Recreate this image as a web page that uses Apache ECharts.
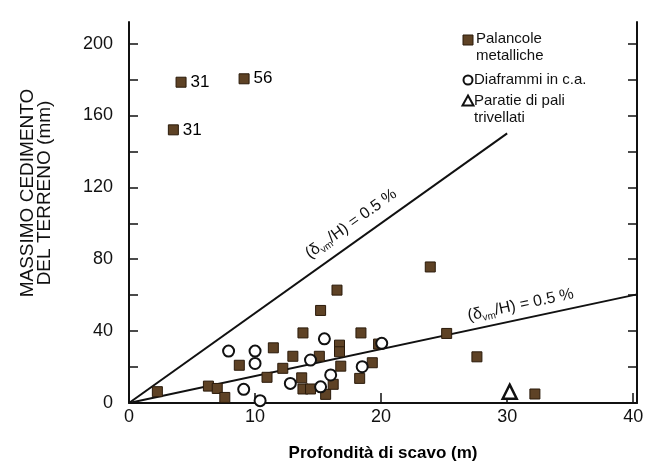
<!DOCTYPE html>
<html>
<head>
<meta charset="utf-8">
<script src="https://cdn.jsdelivr.net/npm/echarts@6/dist/echarts.min.js"></script>
<style>html,body{margin:0;padding:0;background:#fff}#c{width:647px;height:468px}</style>
</head>
<body>
<div id="c"></div>
<script>
// ---- data ----
const palX = [2.25, 6.3, 7.0, 7.6, 8.75, 11.45, 10.95, 12.2, 13.0, 13.8, 13.7, 13.8, 14.4, 15.2, 15.1, 15.6, 16.2, 16.5, 16.7, 16.7, 16.8, 18.4, 18.3, 19.3, 19.8, 23.9, 25.2, 27.6, 32.2];
const palY = [6.3, 9.4, 8.1, 3.1, 21, 30.7, 14.3, 19.3, 26, 39, 14, 7.8, 7.8, 51.5, 26, 4.8, 10.4, 62.8, 32.2, 28.5, 20.5, 39, 13.7, 22.4, 32.8, 75.7, 38.7, 25.7, 5];
const palLabX = [4.13, 3.52, 9.13];
const palLabY = [178.5, 152, 180.4];
const palLabText = ['31', '31', '56'];
const diaX = [7.9, 10.0, 10.0, 9.1, 10.4, 12.8, 14.4, 15.5, 15.2, 16.0, 18.5, 20.05];
const diaY = [28.9, 28.9, 22, 7.6, 1.3, 10.9, 23.9, 35.7, 9, 15.6, 20.2, 33.2];
const parX = [30.2];
const parY = [6.3];
const lineUpX = [0, 30];
const lineUpY = [0, 150];
const lineLoX = [0, 40.3];
const lineLoY = [0, 60.45];
const xTicks = [0, 10, 20, 30, 40];
const yLabels = [0, 40, 80, 120, 160, 200];
const yTicks = [0, 20, 40, 60, 80, 100, 120, 140, 160, 180, 200];
const seriesNames = ['Palancole\nmetalliche', 'Diaframmi in c.a.', 'Paratie di pali\ntrivellati'];
const lineText = '(δ{s|vm}/H) = 0.5 %';
const xTitle = 'Profondità di scavo (m)';
const yTitle = 'MASSIMO CEDIMENTO\nDEL TERRENO (mm)';

// ---- chart ----
const FONT = '"Liberation Sans", Arial, sans-serif';
const chart = echarts.init(document.getElementById('c'), null, {renderer: 'canvas'});
const brown = '#5e4225';
const brownEdge = '#2a1a0a';

const palData = palX.map((x, i) => [x, palY[i]]);
palLabX.forEach((x, i) => palData.push({
  value: [x, palLabY[i]],
  label: {show: true, formatter: palLabText[i], position: 'right', distance: 4,
          color: '#000', opacity: 1, fontSize: 17, fontFamily: FONT}
}));

const option = {
  animation: false,
  backgroundColor: '#fff',
  grid: {left: 129, right: 10, top: 22, bottom: 65, containLabel: false},
  xAxis: {
    type: 'value', min: 0, max: 40.3,
    name: xTitle, nameLocation: 'middle', nameGap: 42,
    nameTextStyle: {fontFamily: FONT, fontSize: 17, fontWeight: 'bold', color: '#000'},
    axisLine: {show: true, onZero: false, lineStyle: {color: '#111', width: 2}},
    axisTick: {show: true, inside: true, length: 10, customValues: xTicks, lineStyle: {color: '#111', width: 1.5}},
    axisLabel: {customValues: xTicks, fontFamily: FONT, fontSize: 18, color: '#111', margin: 5},
    splitLine: {show: false}
  },
  yAxis: [{
    type: 'value', min: 0, max: 212,
    axisLine: {show: true, onZero: false, lineStyle: {color: '#111', width: 2}},
    axisTick: {show: true, inside: true, length: 9, customValues: yTicks, lineStyle: {color: '#111', width: 1.5}},
    axisLabel: {customValues: yLabels, fontFamily: FONT, fontSize: 18, color: '#111', margin: 16},
    splitLine: {show: false}
  }, {
    type: 'value', min: 0, max: 212, position: 'right',
    axisLine: {show: true, onZero: false, lineStyle: {color: '#111', width: 2}},
    axisTick: {show: true, inside: true, length: 9, customValues: yTicks, lineStyle: {color: '#111', width: 1.5}},
    axisLabel: {show: false},
    splitLine: {show: false}
  }],
  series: [
    {name: 'upper', type: 'line', data: lineUpX.map((x, i) => [x, lineUpY[i]]), showSymbol: false,
     lineStyle: {color: '#111', width: 2}, z: 1, silent: true},
    {name: 'lower', type: 'line', data: lineLoX.map((x, i) => [x, lineLoY[i]]), showSymbol: false,
     lineStyle: {color: '#111', width: 2}, z: 1, silent: true},
    {name: seriesNames[0], type: 'scatter', symbol: 'rect', symbolSize: 10, data: palData,
     itemStyle: {color: brown, borderColor: brownEdge, borderWidth: 1, opacity: 1}, z: 3},
    {name: seriesNames[1], type: 'scatter', symbol: 'circle', symbolSize: 11,
     data: diaX.map((x, i) => [x, diaY[i]]),
     itemStyle: {color: '#fff', borderColor: '#111', borderWidth: 2, opacity: 1}, z: 4},
    {name: seriesNames[2], type: 'scatter', symbol: 'triangle', symbolSize: 14,
     data: parX.map((x, i) => [x, parY[i]]),
     itemStyle: {color: '#fff', borderColor: '#111', borderWidth: 2.5, opacity: 1}, z: 4}
  ]
};
chart.setOption(option);

// ---- annotations (legend, rotated line labels, y title) ----
function lineLabel(xs, ys, atX, offset) {
  const p0 = chart.convertToPixel({gridIndex: 0}, [xs[0], ys[0]]);
  const p1 = chart.convertToPixel({gridIndex: 0}, [xs[1], ys[1]]);
  const ang = Math.atan2(p0[1] - p1[1], p1[0] - p0[0]);
  const slope = (ys[1] - ys[0]) / (xs[1] - xs[0]);
  const p = chart.convertToPixel({gridIndex: 0}, [atX, ys[0] + slope * (atX - xs[0])]);
  return {
    type: 'text', x: p[0], y: p[1], rotation: ang, z: 10,
    style: {
      text: '{n|' + lineText.replace('{s|vm}', '}{s|vm}{n|') + '}',
      x: 0, y: -offset, align: 'center', verticalAlign: 'bottom',
      rich: {
        n: {fontFamily: FONT, fontSize: 16, fill: '#111', lineHeight: 20, verticalAlign: 'middle'},
        s: {fontFamily: FONT, fontSize: 10, fill: '#111', lineHeight: 20, verticalAlign: 'bottom'}
      }
    }
  };
}

const legFont = {fontFamily: FONT, fontSize: 15, fill: '#111'};
const legX = 468, legT = 476;
const legendEls = [
  {type: 'rect', shape: {x: legX - 5, y: 35, width: 10, height: 10},
   style: {fill: brown, stroke: brownEdge, lineWidth: 1}},
  {type: 'text', style: Object.assign({text: seriesNames[0], x: legT, y: 31, lineHeight: 16.5, verticalAlign: 'top'}, legFont)},
  {type: 'circle', shape: {cx: legX, cy: 80, r: 4.5}, style: {fill: '#fff', stroke: '#111', lineWidth: 2}},
  {type: 'text', style: Object.assign({text: seriesNames[1], x: legT - 2, y: 72, lineHeight: 16.5, verticalAlign: 'top'}, legFont)},
  {type: 'polygon', shape: {points: [[legX, 95.5], [legX + 5.5, 105.5], [legX - 5.5, 105.5]]},
   style: {fill: '#fff', stroke: '#111', lineWidth: 2}},
  {type: 'text', style: Object.assign({text: seriesNames[2], x: legT - 2, y: 93, lineHeight: 16.5, verticalAlign: 'top'}, legFont)}
];

chart.setOption({
  graphic: [
    ...legendEls,
    lineLabel(lineUpX, lineUpY, 18.4, 7),
    lineLabel(lineLoX, lineLoY, 31.3, 4),
    {type: 'text', x: 36, y: 193, rotation: Math.PI / 2,
     style: {text: yTitle, align: 'center', verticalAlign: 'middle', fontFamily: FONT,
             fontSize: 19, lineHeight: 17, fill: '#111'}}
  ]
});
</script>
</body>
</html>
